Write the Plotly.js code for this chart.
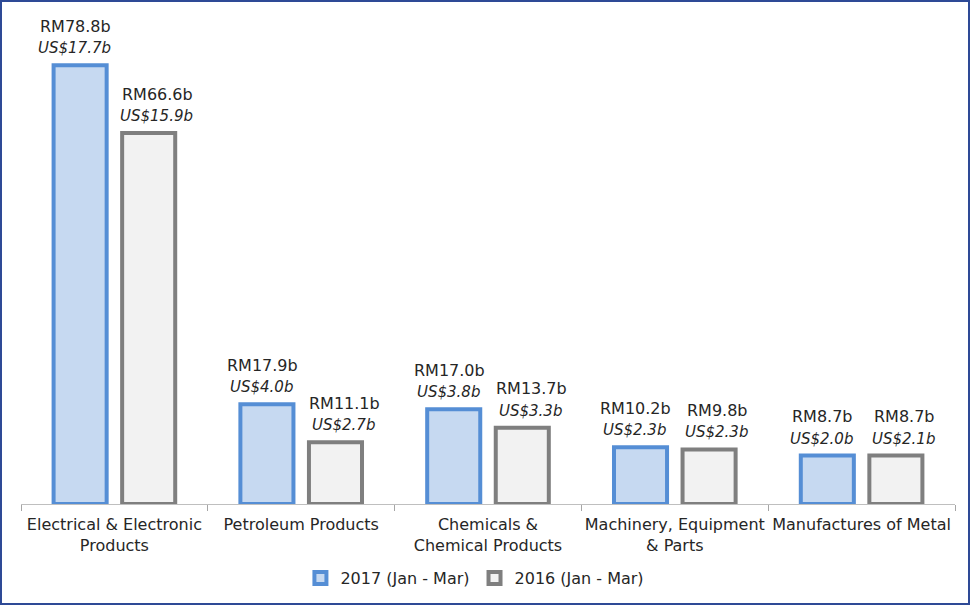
<!DOCTYPE html>
<html>
<head>
<meta charset="utf-8">
<script src="https://cdn.plot.ly/plotly-3.0.1.min.js"></script>
<style>
html,body{margin:0;padding:0;background:#fff;}
#wrap{width:970px;height:605px;box-sizing:border-box;border:2px solid #2E4A96;}
#chart{width:966px;height:601px;}
</style>
</head>
<body>
<div id="wrap"><div id="chart"></div></div>
<script>
const categories = ["Electrical & Electronic<br>Products", "Petroleum Products", "Chemicals &<br>Chemical Products", "Machinery, Equipment<br>& Parts", "Manufactures of Metal"];
const rm2017 = [78.8, 17.9, 17.0, 10.2, 8.7];
const usd2017 = [17.7, 4.0, 3.8, 2.3, 2.0];
const rm2016 = [66.6, 11.1, 13.7, 9.8, 8.7];
const usd2016 = [15.9, 2.7, 3.3, 2.3, 2.1];
const seriesNames = ["2017 (Jan - Mar)", "2016 (Jan - Mar)"];

const FONT = "'Century Gothic', 'DejaVu Sans', sans-serif";
const FS = 16;
const TXT = "#262626";

const traces = [
  {type:"bar", name:seriesNames[0], x:categories, y:rm2017,
   marker:{color:"#C6D9F1", line:{color:"#558ED5", width:4}}, hoverinfo:"none"},
  {type:"bar", name:seriesNames[1], x:categories, y:rm2016,
   marker:{color:"#F2F2F2", line:{color:"#7F7F7F", width:4}}, hoverinfo:"none"}
];

const annotations = [];
[[rm2017, usd2017, -39], [rm2016, usd2016, 43]].forEach(([rm, usd, dx]) => {
  categories.forEach((c, j) => {
    annotations.push({x:c, y:rm[j], xref:"x", yref:"y", xshift:dx, yshift:39, yanchor:"middle",
      showarrow:false, text:"RM" + rm[j].toFixed(1) + "b", font:{family:FONT, size:FS, color:TXT}});
    annotations.push({x:c, y:rm[j], xref:"x", yref:"y", xshift:dx - 1, yshift:17, yanchor:"middle",
      showarrow:false, text:"<i>US$" + usd[j].toFixed(1) + "b</i>", font:{family:FONT, size:15, color:TXT}});
  });
});

const layout = {
  width:966, height:601,
  margin:{l:19, r:13, t:8, b:99, autoexpand:false},
  paper_bgcolor:"#fff", plot_bgcolor:"#fff",
  font:{family:FONT, size:FS, color:TXT},
  barmode:"group", bargap:0.266, bargroupgap:0.226,
  showlegend:true,
  legend:{orientation:"h", x:0.486, xanchor:"center", y:-0.15, yanchor:"middle",
          font:{family:FONT, size:FS, color:TXT}, traceorder:"normal"},
  xaxis:{type:"category", tickson:"boundaries", ticks:"outside", ticklen:6, tickcolor:"#A6A6A6",
         tickangle:0, showline:true, linecolor:"#BFBFBF", linewidth:1, showgrid:false, zeroline:false,
         ticklabelstandoff:6,
         tickfont:{family:FONT, size:FS, color:TXT}, automargin:false},
  yaxis:{range:[0, 88.7], visible:false, showgrid:false, zeroline:false, fixedrange:true},
  annotations:annotations
};

Plotly.newPlot("chart", traces, layout, {staticPlot:true, displayModeBar:false});
</script>
</body>
</html>
